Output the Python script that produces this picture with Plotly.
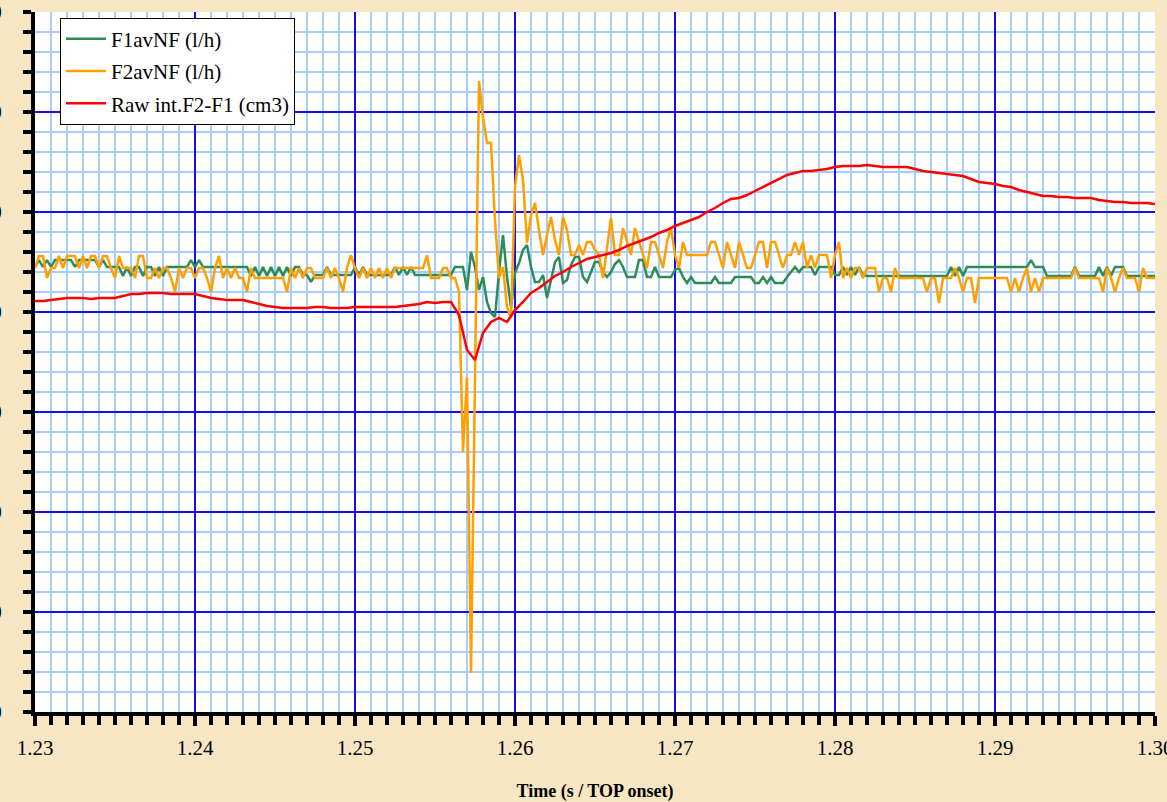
import numpy as np
import plotly.graph_objects as go

# Sampling of the recorded signals
T_START = 1.23
FLOW_STEP = 0.00025   # flow channels, 4 kHz
RAW_STEP = 0.0005     # integrated volume channel

# F1avNF (l/h)
f1_values = [
    45, 52, 45, 52, 45, 52, 52, 52, 52, 52,
    45, 52, 52, 52, 52, 52, 45, 52, 45, 45,
    45, 45, 36, 45, 36, 45, 45, 36, 45, 45,
    36, 45, 36, 45, 45, 45, 45, 45, 45, 52,
    45, 52, 45, 45, 45, 45, 45, 45, 45, 45,
    45, 45, 45, 45, 36, 45, 36, 45, 36, 45,
    36, 45, 36, 45, 36, 45, 45, 37, 37, 30,
    37, 37, 37, 45, 37, 37, 37, 37, 37, 37,
    45, 37, 45, 37, 37, 37, 37, 37, 37, 37,
    45, 37, 45, 37, 45, 37, 37, 37, 37, 37,
    37, 37, 37, 37, 37, 45, 45, 45, 22, 60,
    45, 22, 35, 10, -1, -5, 40, 77, 35, 5,
    39, 49, 62, 67, 45, 30, 30, 37, 14, 32,
    50, 55, 29, 32, 47, 55, 55, 35, 30, 40,
    50, 50, 40, 35, 40, 48, 52, 45, 35, 35,
    35, 52, 52, 35, 35, 45, 35, 35, 35, 35,
    42, 44, 35, 29, 35, 29, 29, 29, 29, 29,
    35, 29, 29, 29, 29, 35, 35, 35, 35, 35,
    29, 29, 35, 29, 35, 29, 29, 29, 35, 40,
    45, 40, 45, 45, 45, 37, 45, 45, 45, 45,
    37, 37, 45, 37, 45, 37, 45, 37, 36, 36,
    36, 36, 36, 36, 36, 36, 36, 36, 36, 36,
    36, 36, 36, 36, 36, 36, 36, 36, 36, 45,
    36, 45, 36, 45, 45, 45, 45, 45, 45, 45,
    45, 45, 45, 45, 45, 45, 45, 45, 45, 52,
    45, 45, 45, 36, 36, 36, 36, 36, 36, 36,
    45, 36, 36, 36, 36, 36, 45, 36, 45, 36,
    45, 45, 45, 36, 36, 36, 36, 36, 36, 36,
    36,
]

# F2avNF (l/h)
f2_values = [
    44, 56, 56, 34, 44, 44, 56, 44, 56, 56,
    56, 44, 56, 44, 56, 56, 44, 56, 56, 44,
    34, 56, 44, 44, 44, 34, 56, 56, 34, 34,
    44, 34, 44, 44, 34, 20, 44, 34, 44, 44,
    34, 44, 44, 34, 20, 44, 56, 34, 44, 34,
    44, 34, 34, 20, 44, 34, 34, 34, 34, 34,
    34, 34, 34, 20, 44, 34, 44, 34, 44, 44,
    34, 34, 34, 44, 34, 44, 34, 20, 44, 57,
    44, 34, 44, 34, 44, 34, 44, 34, 44, 34,
    44, 44, 44, 44, 44, 44, 44, 44, 57, 34,
    34, 34, 44, 44, 34, 34, 20, -140, -65, -361,
    -65, 231, 194, 169, 169, 92, 34, 45, 5, -6,
    125, 157, 132, 69, 97, 109, 82, 57, 77, 95,
    72, 57, 95, 82, 57, 57, 67, 57, 70, 70,
    62, 57, 34, 62, 94, 57, 57, 84, 70, 57,
    84, 70, 57, 44, 70, 70, 57, 44, 70, 84,
    57, 44, 70, 57, 57, 57, 57, 57, 57, 70,
    70, 57, 44, 70, 57, 44, 70, 57, 44, 44,
    57, 70, 70, 44, 70, 70, 57, 44, 57, 57,
    70, 57, 70, 44, 57, 44, 57, 57, 57, 34,
    57, 70, 34, 44, 34, 44, 44, 34, 44, 44,
    44, 20, 34, 34, 20, 44, 34, 34, 34, 34,
    34, 34, 34, 20, 34, 34, 9, 34, 34, 34,
    44, 34, 20, 34, 34, 9, 34, 34, 34, 34,
    34, 34, 34, 34, 20, 34, 20, 34, 44, 20,
    34, 20, 34, 34, 34, 34, 34, 34, 34, 34,
    44, 34, 34, 34, 34, 34, 34, 20, 44, 34,
    20, 34, 44, 34, 34, 34, 20, 44, 34, 34,
    34,
]

# Raw int.F2-F1 (cm3)
raw_values = [
    11, 11, 12, 13, 14, 14, 14, 13, 14, 14,
    14, 16, 18, 18, 19, 19, 19, 18, 18, 18,
    18, 16, 14, 13, 12, 12, 12, 10, 8, 6,
    5, 4, 4, 4, 4, 5, 5, 4, 4, 4,
    5, 5, 5, 5, 5, 5, 6, 7, 8, 10,
    9, 10, 10, -3, -38, -48, -21, -10, -6, -10,
    2, 10, 19, 24, 30, 36, 40, 45, 49, 53,
    55, 57, 59, 62, 66, 69, 72, 75, 79, 82,
    86, 89, 92, 95, 100, 104, 109, 113, 114, 117,
    121, 125, 129, 133, 137, 139, 141, 141, 142, 143,
    145, 146, 146, 146, 147, 146, 145, 145, 145, 145,
    143, 141, 140, 139, 138, 137, 136, 133, 130, 129,
    128, 126, 125, 122, 120, 118, 116, 116, 115, 115,
    114, 114, 114, 112, 111, 110, 110, 109, 109, 109,
    108,
]

# Axis layout
x_range = [1.23, 1.30]
y_range = [-400, 300]
x_major, x_minor = 0.01, 0.001
y_major, y_minor = 100, 20

t_flow = T_START + FLOW_STEP * np.arange(len(f1_values))
t_raw = T_START + RAW_STEP * np.arange(len(raw_values))

SERIF = "Liberation Serif"
MAJOR_GRID = "#1010f0"
MINOR_GRID = "#a6cdfd"

fig = go.Figure()
fig.add_trace(go.Scatter(x=t_flow, y=f1_values, mode="lines", name="F1avNF (l/h)",
                         line=dict(color="#2e8b57", width=2.5), legendgroup="a"))
fig.add_trace(go.Scatter(x=t_flow, y=f2_values, mode="lines", name="F2avNF (l/h)",
                         line=dict(color="#ffa000", width=2.5), legendgroup="b"))
fig.add_trace(go.Scatter(x=t_raw, y=raw_values, mode="lines", name="Raw int.F2-F1 (cm3)",
                         line=dict(color="#ff0000", width=2.5), legendgroup="c"))

tick_common = dict(tickcolor="black", tickwidth=4)

fig.update_layout(
    width=1167, height=802,
    margin=dict(l=35, r=12, t=12, b=90, autoexpand=False),
    paper_bgcolor="#f6e6c4",
    plot_bgcolor="white",
    font=dict(family=SERIF, color="black"),
    showlegend=True,
    legend=dict(
        x=0.0223, y=0.992, xanchor="left", yanchor="top",
        bgcolor="white", bordercolor="black", borderwidth=1,
        font=dict(family=SERIF, size=21, color="black"),
        traceorder="grouped", tracegroupgap=2, itemwidth=40,
    ),
    xaxis=dict(
        range=x_range, tick0=1.23, dtick=x_major, tickformat=".2f",
        showgrid=True, gridcolor=MAJOR_GRID, gridwidth=2, zeroline=False,
        showline=True, linecolor="black", linewidth=4,
        ticks="outside", ticklen=10, **tick_common,
        minor=dict(dtick=x_minor, ticks="outside", ticklen=9, tickwidth=4, tickcolor="black",
                   showgrid=True, gridcolor=MINOR_GRID, gridwidth=1.5),
        tickfont=dict(family=SERIF, size=21, color="black"),
        ticklabelstandoff=4, ticklabeloverflow="allow",
        title=dict(text="<b>Time (s / TOP onset)</b>", standoff=26,
                   font=dict(family=SERIF, size=18, color="black")),
        automargin=False, layer="above traces",
    ),
    yaxis=dict(
        range=y_range, tick0=0, dtick=y_major,
        showgrid=True, gridcolor=MAJOR_GRID, gridwidth=2, zeroline=False,
        showline=True, linecolor="black", linewidth=4,
        ticks="outside", ticklen=8, **tick_common,
        minor=dict(dtick=y_minor, ticks="outside", ticklen=8, tickwidth=4, tickcolor="black",
                   showgrid=True, gridcolor=MINOR_GRID, gridwidth=1.5),
        tickfont=dict(family=SERIF, size=21, color="black"),
        ticklabelstandoff=17, ticklabeloverflow="allow",
        automargin=False, layer="above traces",
    ),
    # inner halves of the crossing tick marks
    xaxis2=dict(
        overlaying="x", anchor="y", side="bottom", range=x_range, tick0=1.23, dtick=x_major,
        showgrid=False, zeroline=False, showline=False, showticklabels=False,
        ticks="inside", ticklen=9, **tick_common,
        minor=dict(dtick=x_minor, ticks="inside", ticklen=7, tickwidth=4, tickcolor="black",
                   showgrid=False),
    ),
    yaxis2=dict(
        overlaying="y", anchor="x", side="left", range=y_range, tick0=0, dtick=y_major,
        showgrid=False, zeroline=False, showline=False, showticklabels=False,
        ticks="inside", ticklen=8, **tick_common,
        minor=dict(dtick=y_minor, ticks="inside", ticklen=8, tickwidth=4, tickcolor="black",
                   showgrid=False),
    ),
    # right-hand frame edge
    yaxis3=dict(
        overlaying="y", anchor="x", side="right", range=y_range,
        showgrid=False, zeroline=False, showline=True, linecolor="#1c1c78", linewidth=2,
        showticklabels=False, tickvals=[100], ticks="outside", ticklen=8,
        tickwidth=1.5, tickcolor="black",
    ),
)

fig.write_html("out.html")
